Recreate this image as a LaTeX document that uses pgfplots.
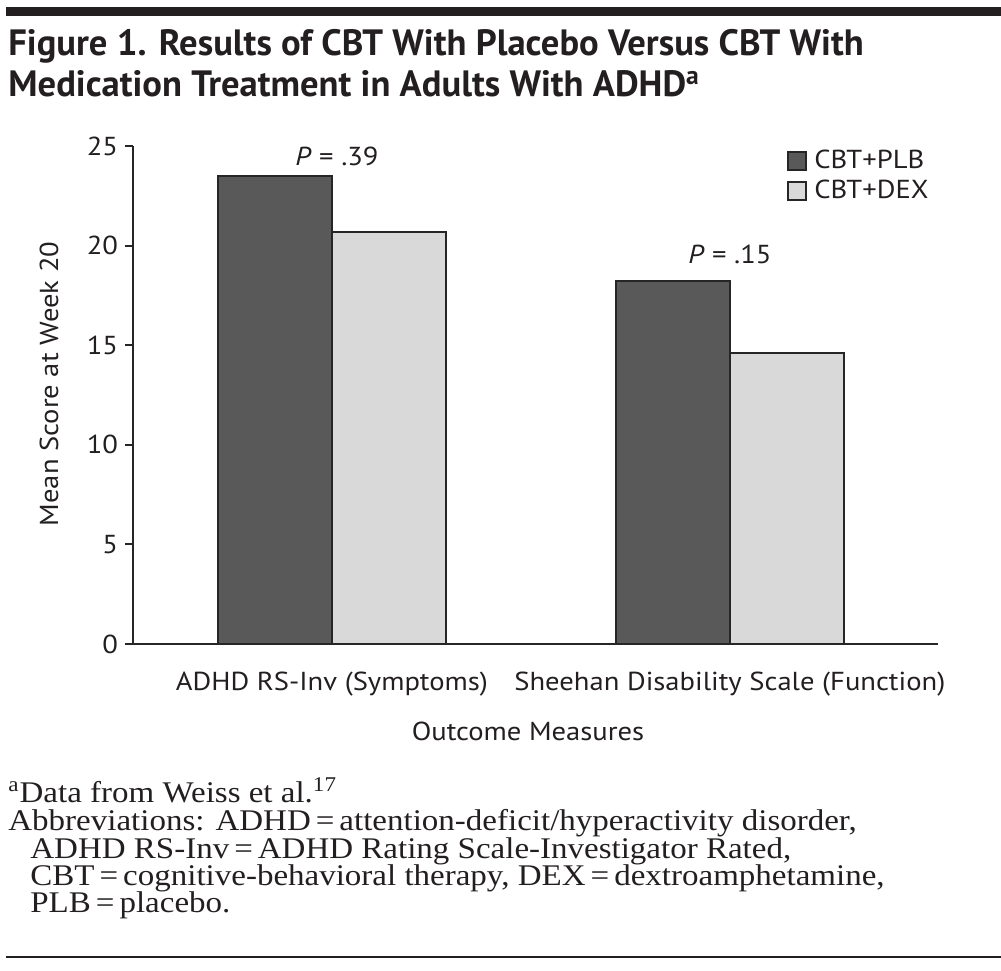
\documentclass[border=0pt]{standalone}
\usepackage{fontspec}
\setmainfont{PT Sans}[FakeStretch=1.1]
\newfontfamily\titlefont{PT Sans}
\newfontfamily\notefont{Liberation Serif}[FakeStretch=1.1]
\usepackage{pgfplots}
\pgfplotsset{compat=1.18}
\definecolor{darkbar}{HTML}{595959}
\definecolor{lightbar}{HTML}{D9D9D9}
\definecolor{edge}{HTML}{262626}
\definecolor{txt}{HTML}{231F20}
\begin{document}
\begin{tikzpicture}[every node/.style={text=txt}]
\useasboundingbox (0,0) rectangle (500.5pt,485pt);
\fill[txt] (3pt,477pt) rectangle (500.5pt,481.5pt);
\draw[txt,line width=1.3pt] (3pt,6.5pt) -- (500.5pt,6.5pt);
% title
\node[anchor=base west,inner sep=0pt] at (4pt,457pt) {\titlefont\bfseries\fontsize{18.3}{22}\selectfont Figure 1. Results of CBT With Placebo Versus CBT With};
\node[anchor=base west,inner sep=0pt] at (4pt,436.5pt) {\titlefont\bfseries\fontsize{18.3}{22}\selectfont Medication Treatment in Adults With ADHD\textsuperscript{a}};
% footnote
\begin{scope}[every node/.style={anchor=base west,inner sep=0pt,text=txt,font=\notefont\fontsize{15}{17}\selectfont}]
\node at (4pt,84pt) {\textsuperscript{a}Data from Weiss et al.\textsuperscript{17}};
\node at (4pt,70pt) {Abbreviations: ADHD\,=\,attention-deficit/hyperactivity disorder,};
\node at (15pt,56pt) {ADHD RS-Inv\,=\,ADHD Rating Scale-Investigator Rated,};
\node at (15pt,42.5pt) {CBT\,=\,cognitive-behavioral therapy, DEX\,=\,dextroamphetamine,};
\node at (15pt,29pt) {PLB\,=\,placebo.};
\end{scope}
% axis labels
\node[anchor=base,rotate=90,inner sep=0pt,font=\fontsize{13}{15}\selectfont] at (29pt,293pt) {Mean Score at Week 20};
\node[anchor=base,inner sep=0pt,font=\fontsize{13}{15}\selectfont] at (264pt,115pt) {Outcome Measures};
\begin{axis}[
  scale only axis, width=402.5pt, height=249pt,
  at={(66.5pt,163pt)}, anchor=south west,
  xmin=-0.5, xmax=1.523, ymin=0, ymax=25,
  axis lines*=left,
  axis line style={line width=1pt, color=edge, -},
  x axis line style={-}, y axis line style={-},
  ybar=0pt, bar width=57pt,
  xtick={0,1},
  xticklabels={ADHD RS-Inv (Symptoms), Sheehan Disability Scale (Function)},
  x tick style={draw=none},
  ytick={0,5,10,15,20,25},
  y tick style={line width=1pt, color=edge},
  tick align=outside, major tick length=4pt,
  tick label style={font=\fontsize{13}{15}\selectfont, text=txt},
  xticklabel style={anchor=base, yshift=-19.5pt},
  /pgf/number format/assume math mode=true,
  legend style={draw=none, fill=none, at={(0.8123,1.0)}, anchor=north west,
    font=\fontsize{13}{15}\selectfont, row sep=0pt, inner sep=0pt},
  legend cell align=left,
  legend image code/.code={\draw[#1, line width=1pt] (0pt,-4.5pt) rectangle (9pt,4.5pt); \path[draw=none,fill=none] (9pt,0pt) -- (11pt,0pt);},
]
\addplot[fill=darkbar, draw=edge, line width=1pt] coordinates {(0,23.5) (1,18.2)};
\addplot[fill=lightbar, draw=edge, line width=1pt] coordinates {(0,20.7) (1,14.6)};
\legend{CBT+PLB, CBT+DEX}
\node[font=\fontsize{13}{15}\selectfont, xshift=2.5pt] at (axis cs:0,24.5) {\textit{P} = .39};
\node[font=\fontsize{13}{15}\selectfont] at (axis cs:1,19.55) {\textit{P} = .15};
\end{axis}
\end{tikzpicture}
\end{document}
